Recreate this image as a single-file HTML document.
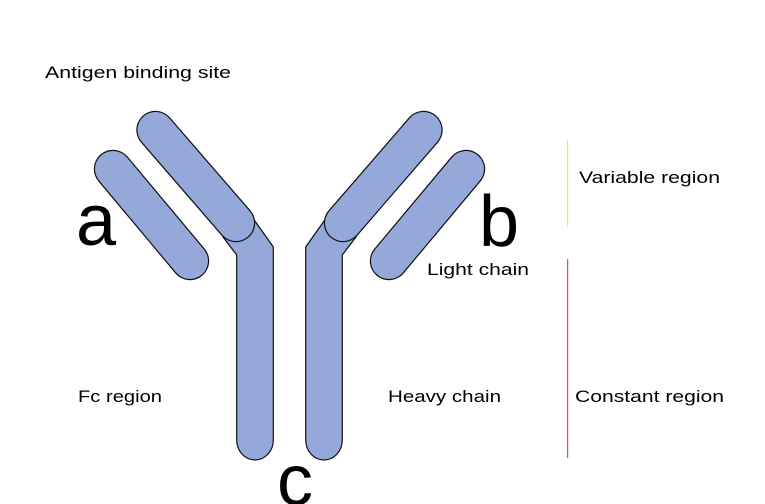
<!DOCTYPE html>
<html><head><meta charset="utf-8"><style>
html,body{margin:0;padding:0;background:#fff;}
svg{display:block;}
text{font-family:"Liberation Sans","DejaVu Sans",sans-serif;fill:#000;}
</style></head><body>
<svg width="765" height="504" viewBox="0 0 765 504" xmlns="http://www.w3.org/2000/svg">
<defs>
<g id="half">
  <path d="M223,237 L236.7,255 L236.7,440 A18.3,20 0 0 0 273.3,440 L273.3,247 L250.7,215 Z" fill="#95a8da" stroke="#111" stroke-width="1.2"/>
  <line x1="155.5" y1="130" x2="236" y2="223" stroke="#111" stroke-width="38.4" stroke-linecap="round"/>
  <line x1="155.5" y1="130" x2="236" y2="223" stroke="#95a8da" stroke-width="36" stroke-linecap="round"/>
  <line x1="113" y1="169" x2="190" y2="261" stroke="#111" stroke-width="38.4" stroke-linecap="round"/>
  <line x1="113" y1="169" x2="190" y2="261" stroke="#95a8da" stroke-width="36" stroke-linecap="round"/>
</g>
</defs>
<use href="#half"/>
<use href="#half" transform="translate(579,0) scale(-1,1)"/>
<rect x="567" y="140" width="1.2" height="87" fill="#f5e94a"/>
<rect x="567" y="259" width="1.2" height="199" fill="#e8505e"/>
<text x="45" y="78" font-size="17" textLength="186" lengthAdjust="spacingAndGlyphs">Antigen binding site</text>
<text x="579" y="183" font-size="17" textLength="141" lengthAdjust="spacingAndGlyphs">Variable region</text>
<text x="427" y="275" font-size="17" textLength="102" lengthAdjust="spacingAndGlyphs">Light chain</text>
<text x="78" y="402" font-size="17" textLength="84" lengthAdjust="spacingAndGlyphs">Fc region</text>
<text x="388" y="402" font-size="17" textLength="113" lengthAdjust="spacingAndGlyphs">Heavy chain</text>
<text x="575" y="402" font-size="17" textLength="149" lengthAdjust="spacingAndGlyphs">Constant region</text>
<text x="76" y="245" font-size="72">a</text>
<text x="479" y="246" font-size="72">b</text>
<text x="277" y="505" font-size="72">c</text>
</svg>
</body></html>
